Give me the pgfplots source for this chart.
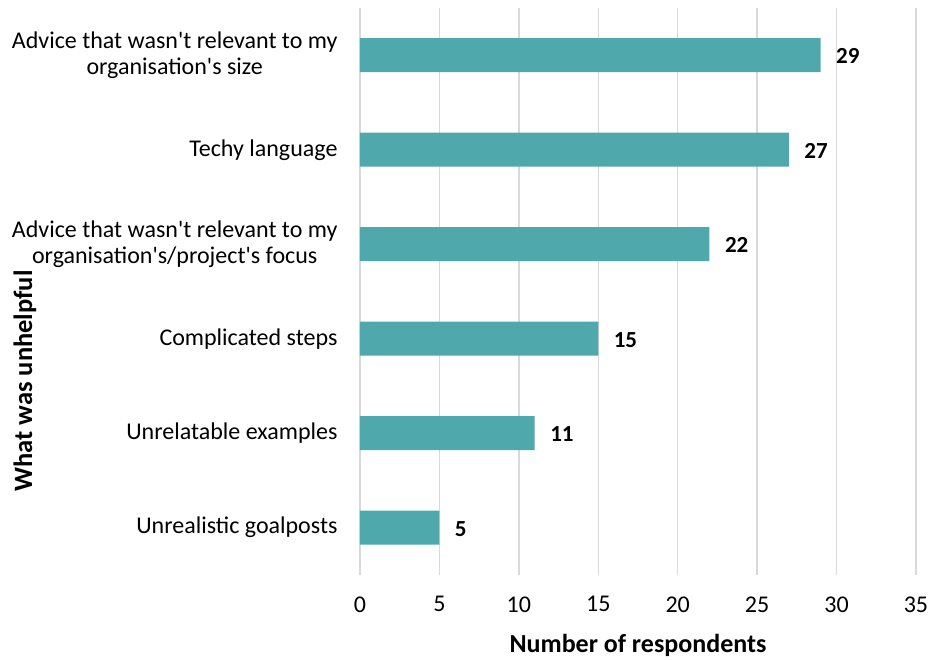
\documentclass[border=0pt]{standalone}
\usepackage{fontspec}
\setmainfont{Carlito}
\usepackage{pgfplots}
\pgfplotsset{compat=1.18}
\definecolor{barteal}{HTML}{4EA8AC}
\definecolor{gridgray}{HTML}{D9D9D9}
\begin{document}
\begin{tikzpicture}
\begin{axis}[
  scale only axis,
  width=556pt, height=567pt,
  xbar, bar width=0.36,
  xmin=0, xmax=35, ymin=-0.5, ymax=5.5,
  xtick={0,5,...,35},
  ytick={0,1,2,3,4,5},
  yticklabels={Unrealistic goalposts, Unrelatable examples, Complicated steps,
    {Advice that wasn\textquotesingle t relevant to my\\organisation\textquotesingle s/project\textquotesingle s focus},
    Techy language,
    {Advice that wasn\textquotesingle t relevant to my\\organisation\textquotesingle s size}},
  yticklabel style={align=center, font=\fontsize{24}{26}\selectfont, xshift=-19pt},
  xticklabel style={font=\fontsize{24}{26}\selectfont, yshift=-18pt},
  /pgf/number format/assume math mode=true,
  major tick length=0pt,
  axis line style={draw=none},
  xmajorgrids, grid style={gridgray, line width=1.5pt},
  xlabel={\textbf{Number of respondents}},
  xlabel style={font=\fontsize{26}{28}\selectfont, at={(rel axis cs:0.5,-0.1235)}, anchor=center},
  ylabel={\textbf{What was unhelpful}},
  ylabel style={font=\fontsize{26.5}{28}\selectfont, at={(rel axis cs:-0.6025,0.342)}, anchor=center},
  nodes near coords,
  every node near coord/.append style={font=\bfseries\fontsize{23}{26}\selectfont, black, xshift=12pt, yshift=-1pt},
  clip=false,
]
\addplot[fill=barteal, draw=none] coordinates {(5,0) (11,1) (15,2) (22,3) (27,4) (29,5)};
\coordinate (bl) at (rel axis cs:-0.6475,-0.1499);
\coordinate (tr) at (rel axis cs:1.0252,1.0141);
\end{axis}
\pgfresetboundingbox
\path[use as bounding box] (bl) rectangle (tr);
\end{tikzpicture}
\end{document}
